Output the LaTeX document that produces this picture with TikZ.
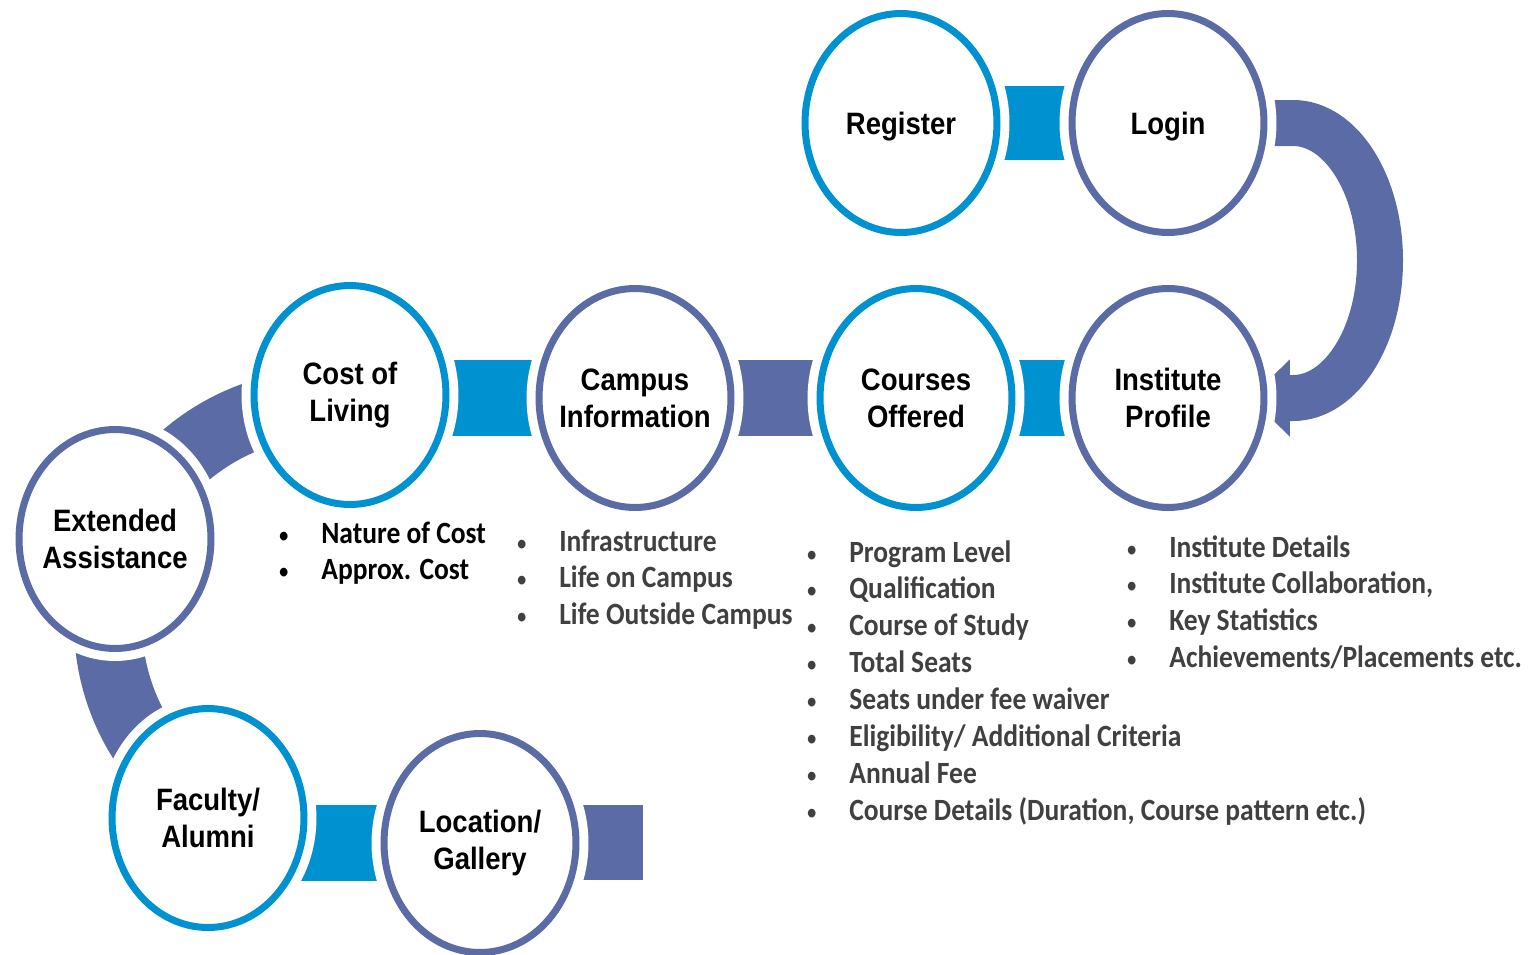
\documentclass[tikz,border=0pt]{standalone}
\usepackage{fontspec}
\setmainfont{Carlito}[FakeStretch=0.89]
\newfontfamily\labelfont{Liberation Sans}[FakeStretch=0.89]
\usetikzlibrary{shapes.geometric, arrows.meta, positioning, calc, backgrounds}
\definecolor{stepblue}{RGB}{0,146,208}
\definecolor{stepslate}{RGB}{91,107,166}
\definecolor{listgray}{RGB}{64,64,64}
\newcommand{\listfont}{\fontsize{17.6}{21}\selectfont\bfseries}
\newcommand{\dotitem}{{\mdseries\fontsize{14}{14}\selectfont\textbullet}}

\begin{document}
\begin{tikzpicture}[
    x=0.02cm, y=-0.02cm,
    stage/.style={ellipse, draw=#1, line width=0.14cm, fill=white, preaction={draw=white, line width=0.5cm}, minimum width=3.84cm, minimum height=4.38cm, inner sep=0pt},
    caption/.style={align=center, inner sep=0pt, font=\labelfont\bfseries\fontsize{17.6}{21}\selectfont},
    notes/.style={anchor=base west, inner sep=0pt, font=\listfont, text=#1},
    band/.style={draw=stepslate, line width=1.36cm},
    flow/.style={draw=stepslate, line width=0.92cm, -{Triangle[length=0.8cm, width=1.5cm]}, shorten >=1.64cm}
  ]
  \useasboundingbox (0,0) rectangle (1531,954);

  % steps
  \node[stage=stepblue, label={[caption, text depth=0pt]center:Register}] (register) at (901,123) {};
  \node[stage=stepslate, label={[caption, text depth=0pt]center:Login}] (login) at (1168,123) {};
  \node[stage=stepslate, label={[caption]center:Institute\\Profile}] (institute) at (1168,398) {};
  \node[stage=stepblue, label={[caption]center:Courses\\Offered}] (courses) at (916,398) {};
  \node[stage=stepslate, label={[caption]center:Campus\\Information}] (campus) at (635,398) {};
  \node[stage=stepblue, label={[caption]center:Cost of\\Living}] (cost) at (350,395) {};
  \node[stage=stepslate, label={[caption]center:Extended\\Assistance}] (extended) at (115,539) {};
  \node[stage=stepblue, label={[caption]center:Faculty/\\Alumni}] (faculty) at (208,818) {};
  \node[stage=stepslate, label={[caption]center:Location/\\Gallery}] (location) at (480,843) {};
  \coordinate (ring) at (328,623);
  \coordinate (loose) at (643,842);

  % connectors
  \begin{scope}[on background layer]
    \fill[stepblue] ($(register.center)+(0,-37)$) rectangle ($(login.center)+(0,37)$);
    \draw[flow] (login.center) -- ++(125,0) arc[start angle=-90, end angle=90, x radius=87, y radius=137.5] -- (institute.center);
    \fill[stepblue] ($(institute.center)+(0,-38)$) rectangle ($(courses.center)+(0,38)$);
    \fill[stepslate] ($(courses.center)+(0,-38)$) rectangle ($(campus.center)+(0,38)$);
    \fill[stepblue] ($(campus.center)+(0,-38)$) rectangle ($(cost.center |- campus.center)+(0,38)$);
    \draw[band] (ring) ++(-84:220) arc[start angle=-84, end angle=-238, radius=220];
    \fill[stepblue] ($(faculty.center |- location.center)+(0,-38)$) rectangle ($(location.center)+(0,38)$);
    \fill[stepslate] ($(location.center)+(0,-38)$) rectangle ($(loose)+(0,38)$);
  \end{scope}

  % details
  \node[notes=black] (costnotes) at (278,543) {\begin{tabular}[t]{@{}p{0.86cm}@{}l@{}}
    \dotitem & Nature of Cost\\
    \dotitem & Approx. Cost
  \end{tabular}};
  \node[notes=listgray] (campusnotes) at (516,551) {\begin{tabular}[t]{@{}p{0.86cm}@{}l@{}}
    \dotitem & Infrastructure\\
    \dotitem & Life on Campus\\
    \dotitem & Life Outside Campus
  \end{tabular}};
  \node[notes=listgray] (coursenotes) at (806,562) {\begin{tabular}[t]{@{}p{0.86cm}@{}l@{}}
    \dotitem & Program Level\\
    \dotitem & Qualification\\
    \dotitem & Course of Study\\
    \dotitem & Total Seats\\
    \dotitem & Seats under fee waiver\\
    \dotitem & Eligibility/ Additional Criteria\\
    \dotitem & Annual Fee\\
    \dotitem & Course Details (Duration, Course pattern etc.)
  \end{tabular}};
  \node[notes=listgray] (institutenotes) at (1126,557) {\begin{tabular}[t]{@{}p{0.86cm}@{}l@{}}
    \dotitem & Institute Details\\
    \dotitem & Institute Collaboration,\\
    \dotitem & Key Statistics\\
    \dotitem & Achievements/Placements etc.
  \end{tabular}};
\end{tikzpicture}
\end{document}
